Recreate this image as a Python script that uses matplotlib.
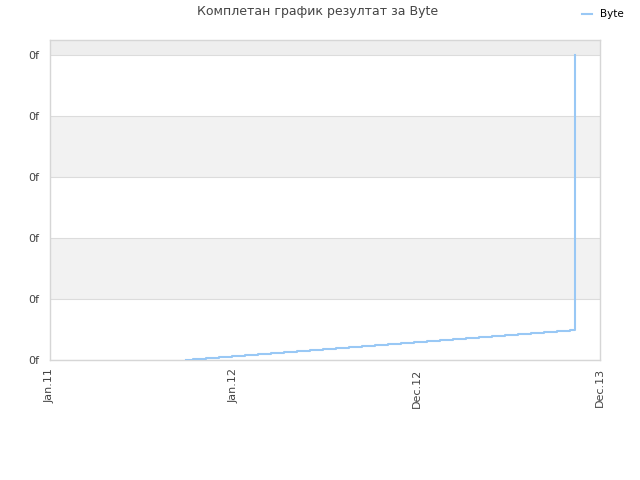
import pandas as pd
import matplotlib
matplotlib.use('Agg')
import matplotlib.pyplot as plt

# data
dates = ['2011-09-21', '2011-10-05', '2011-10-30', '2011-11-24', '2011-12-19',
         '2012-01-14', '2012-02-08', '2012-03-04', '2012-03-29', '2012-04-23',
         '2012-05-18', '2012-06-13', '2012-07-08', '2012-08-02', '2012-08-27',
         '2012-09-21', '2012-10-16', '2012-11-11', '2012-12-06', '2012-12-31',
         '2013-01-25', '2013-02-19', '2013-03-16', '2013-04-11', '2013-05-06',
         '2013-05-31', '2013-06-25', '2013-07-20', '2013-08-14', '2013-09-09',
         '2013-10-04', '2013-10-13', '2013-10-13', '2013-10-13']
values = [0.0, 0.02, 0.03, 0.05, 0.07, 0.08, 0.10, 0.11, 0.13, 0.15,
          0.16, 0.18, 0.20, 0.21, 0.23, 0.25, 0.26, 0.28, 0.30, 0.31,
          0.33, 0.34, 0.36, 0.38, 0.39, 0.41, 0.43, 0.44, 0.46, 0.48,
          0.49, 0.50, 1.5, 5.0]
tick_dates = ['2011-01-01', '2011-12-22', '2012-12-11', '2013-12-01']
tick_labels = ['Jan.11', 'Jan.12', 'Dec.12', 'Dec.13']
y_ticks = [0, 1, 2, 3, 4, 5]
y_labels = ['0f'] * 6

x = pd.to_datetime(dates)
xt = pd.to_datetime(tick_dates)

fig = plt.figure(figsize=(6.4, 4.8), dpi=100)
ax = fig.add_axes([50/640, 120/480, 550/640, 320/480])

ymax = 5 + 15/61
ax.set_ylim(0, ymax)
ax.set_xlim(xt[0], xt[-1])

# alternating bands
for i in range(len(y_ticks)):
    lo = y_ticks[i]
    hi = min(lo + 1, ymax)
    if i == 5:
        ax.axhspan(lo, hi, color='#eeeeee', lw=0, zorder=0)
    elif i % 2 == 1:
        ax.axhspan(lo, hi, color='#f2f2f2', lw=0, zorder=0)
    ax.axhline(lo, color='#dcdcdc', lw=0.8, zorder=1)

ax.plot(x, values, drawstyle='steps-post', color='#99c8f5', lw=1.5, zorder=3, label='Byte')

ax.set_yticks(y_ticks)
ax.set_yticklabels(y_labels, fontsize=8, color='#444444')
ax.set_xticks(xt)
ax.set_xticklabels(tick_labels, rotation=90, fontsize=8, color='#444444')
ax.tick_params(axis='y', length=0, pad=8)
ax.tick_params(axis='x', length=0, pad=6)
for s in ax.spines.values():
    s.set_color('#d6d6d6')
    s.set_linewidth(1)

fig.text(318/640, 1 - 12/480, 'Комплетан график резултат за Byte', ha='center', va='center',
         fontsize=9, color='#444444')
fig.legend(loc='upper right', bbox_to_anchor=(0.99, 1.0), frameon=False, fontsize=7.5,
           handlelength=1.0, handletextpad=0.8)

fig.savefig('out.png', dpi=100)
